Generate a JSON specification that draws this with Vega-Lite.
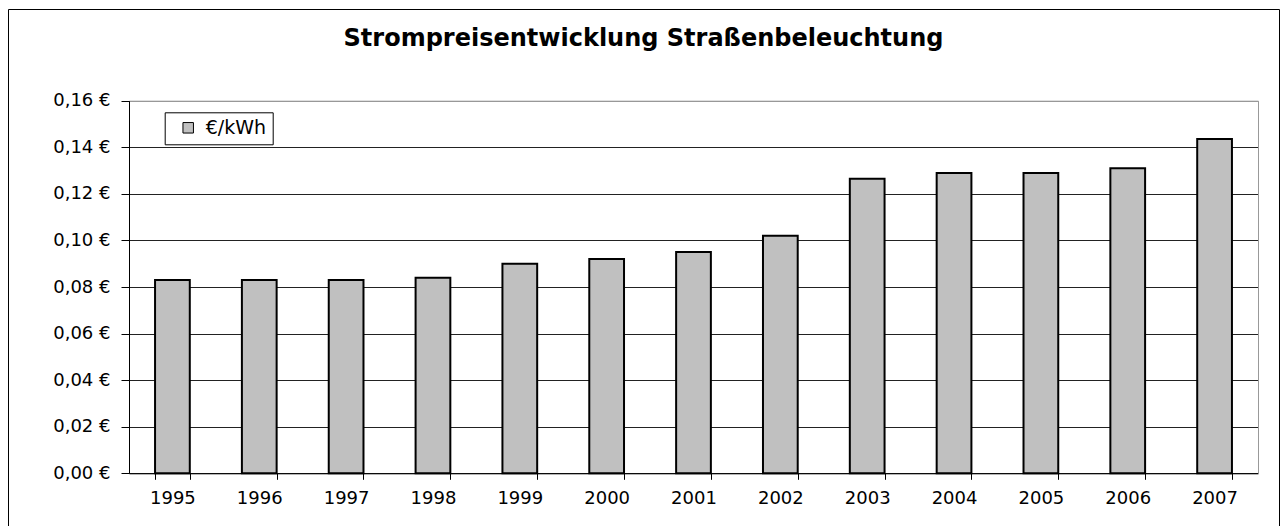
{
  "$schema": "https://vega.github.io/schema/vega-lite/v6.json",
  "width": 1271,
  "height": 517,
  "autosize": {"type": "none"},
  "padding": {"left": 8, "top": 9, "right": 6, "bottom": 0},
  "background": "white",
  "title": {
    "text": "Strompreisentwicklung Straßenbeleuchtung",
    "font": "DejaVu Sans",
    "fontSize": 24,
    "fontWeight": "bold",
    "color": "black",
    "anchor": "middle",
    "baseline": "alphabetic",
    "offset": -61
  },
  "data": {
    "values": [
      {"jahr": "1995", "preis": 0.083, "serie": "€/kWh"},
      {"jahr": "1996", "preis": 0.083, "serie": "€/kWh"},
      {"jahr": "1997", "preis": 0.083, "serie": "€/kWh"},
      {"jahr": "1998", "preis": 0.084, "serie": "€/kWh"},
      {"jahr": "1999", "preis": 0.090, "serie": "€/kWh"},
      {"jahr": "2000", "preis": 0.092, "serie": "€/kWh"},
      {"jahr": "2001", "preis": 0.095, "serie": "€/kWh"},
      {"jahr": "2002", "preis": 0.102, "serie": "€/kWh"},
      {"jahr": "2003", "preis": 0.1265, "serie": "€/kWh"},
      {"jahr": "2004", "preis": 0.129, "serie": "€/kWh"},
      {"jahr": "2005", "preis": 0.129, "serie": "€/kWh"},
      {"jahr": "2006", "preis": 0.131, "serie": "€/kWh"},
      {"jahr": "2007", "preis": 0.1435, "serie": "€/kWh"}
    ]
  },
  "layer": [
    {
      "mark": {"type": "bar", "stroke": "black", "strokeWidth": 2},
      "encoding": {
        "x": {
          "field": "jahr",
          "type": "ordinal",
          "scale": {"range": [121, 1250], "paddingInner": 0.6, "paddingOuter": 0.3},
          "axis": {
            "orient": "bottom",
            "offset": -52.7,
            "title": null,
            "labelAngle": 0,
            "labelFont": "DejaVu Sans",
            "labelFontSize": 18,
            "labelColor": "black",
            "labelPadding": 10,
            "tickBand": "extent",
            "tickSize": 6,
            "tickColor": "black",
            "domainColor": "black",
            "grid": false
          }
        },
        "y": {
          "field": "preis",
          "type": "quantitative",
          "scale": {"domain": [0, 0.16], "range": [464.3, 91.7], "nice": false, "zero": true},
          "axis": {
            "orient": "left",
            "offset": -121,
            "title": null,
            "values": [0, 0.02, 0.04, 0.06, 0.08, 0.1, 0.12, 0.14, 0.16],
            "labelExpr": "replace(format(datum.value, '.2f'), '.', ',') + ' €'",
            "labelFont": "DejaVu Sans",
            "labelFontSize": 18,
            "labelColor": "black",
            "labelPadding": 11,
            "tickSize": 8,
            "tickColor": "black",
            "domainColor": "black",
            "grid": true,
            "gridColor": {"condition": {"test": "datum.value >= 0.159", "value": "#999999"}, "value": "#222222"},
            "gridOpacity": 1
          }
        },
        "color": {
          "field": "serie",
          "type": "nominal",
          "scale": {"range": ["#c0c0c0"]},
          "legend": {
            "title": null,
            "orient": "none",
            "legendX": 156.7,
            "legendY": 103.3,
            "strokeColor": "black",
            "fillColor": "white",
            "padding": 6,
            "symbolType": "square",
            "symbolSize": 110,
            "symbolStrokeColor": "black",
            "symbolStrokeWidth": 1,
            "symbolOffset": 8,
            "labelOffset": 8,
            "labelFont": "DejaVu Sans",
            "labelFontSize": 19,
            "labelColor": "black"
          }
        }
      }
    },
    {
      "mark": {"type": "bar", "opacity": 0},
      "encoding": {
        "x": {
          "field": "jahr",
          "type": "ordinal",
          "scale": {"range": [121, 1250], "paddingInner": 0.6, "paddingOuter": 0.3},
          "axis": {
            "orient": "top",
            "offset": -91.7,
            "title": null,
            "labels": false,
            "ticks": false,
            "grid": false,
            "domainColor": "#999999"
          }
        },
        "y": {
          "field": "preis",
          "type": "quantitative",
          "scale": {"domain": [0, 0.16], "range": [464.3, 91.7], "nice": false, "zero": true},
          "axis": {
            "orient": "right",
            "offset": -21,
            "title": null,
            "labels": false,
            "ticks": false,
            "grid": false,
            "domainColor": "#999999"
          }
        }
      }
    }
  ],
  "resolve": {"axis": {"x": "independent", "y": "independent"}},
  "config": {
    "view": {"stroke": "black", "strokeWidth": 1, "fill": "white"}
  }
}
